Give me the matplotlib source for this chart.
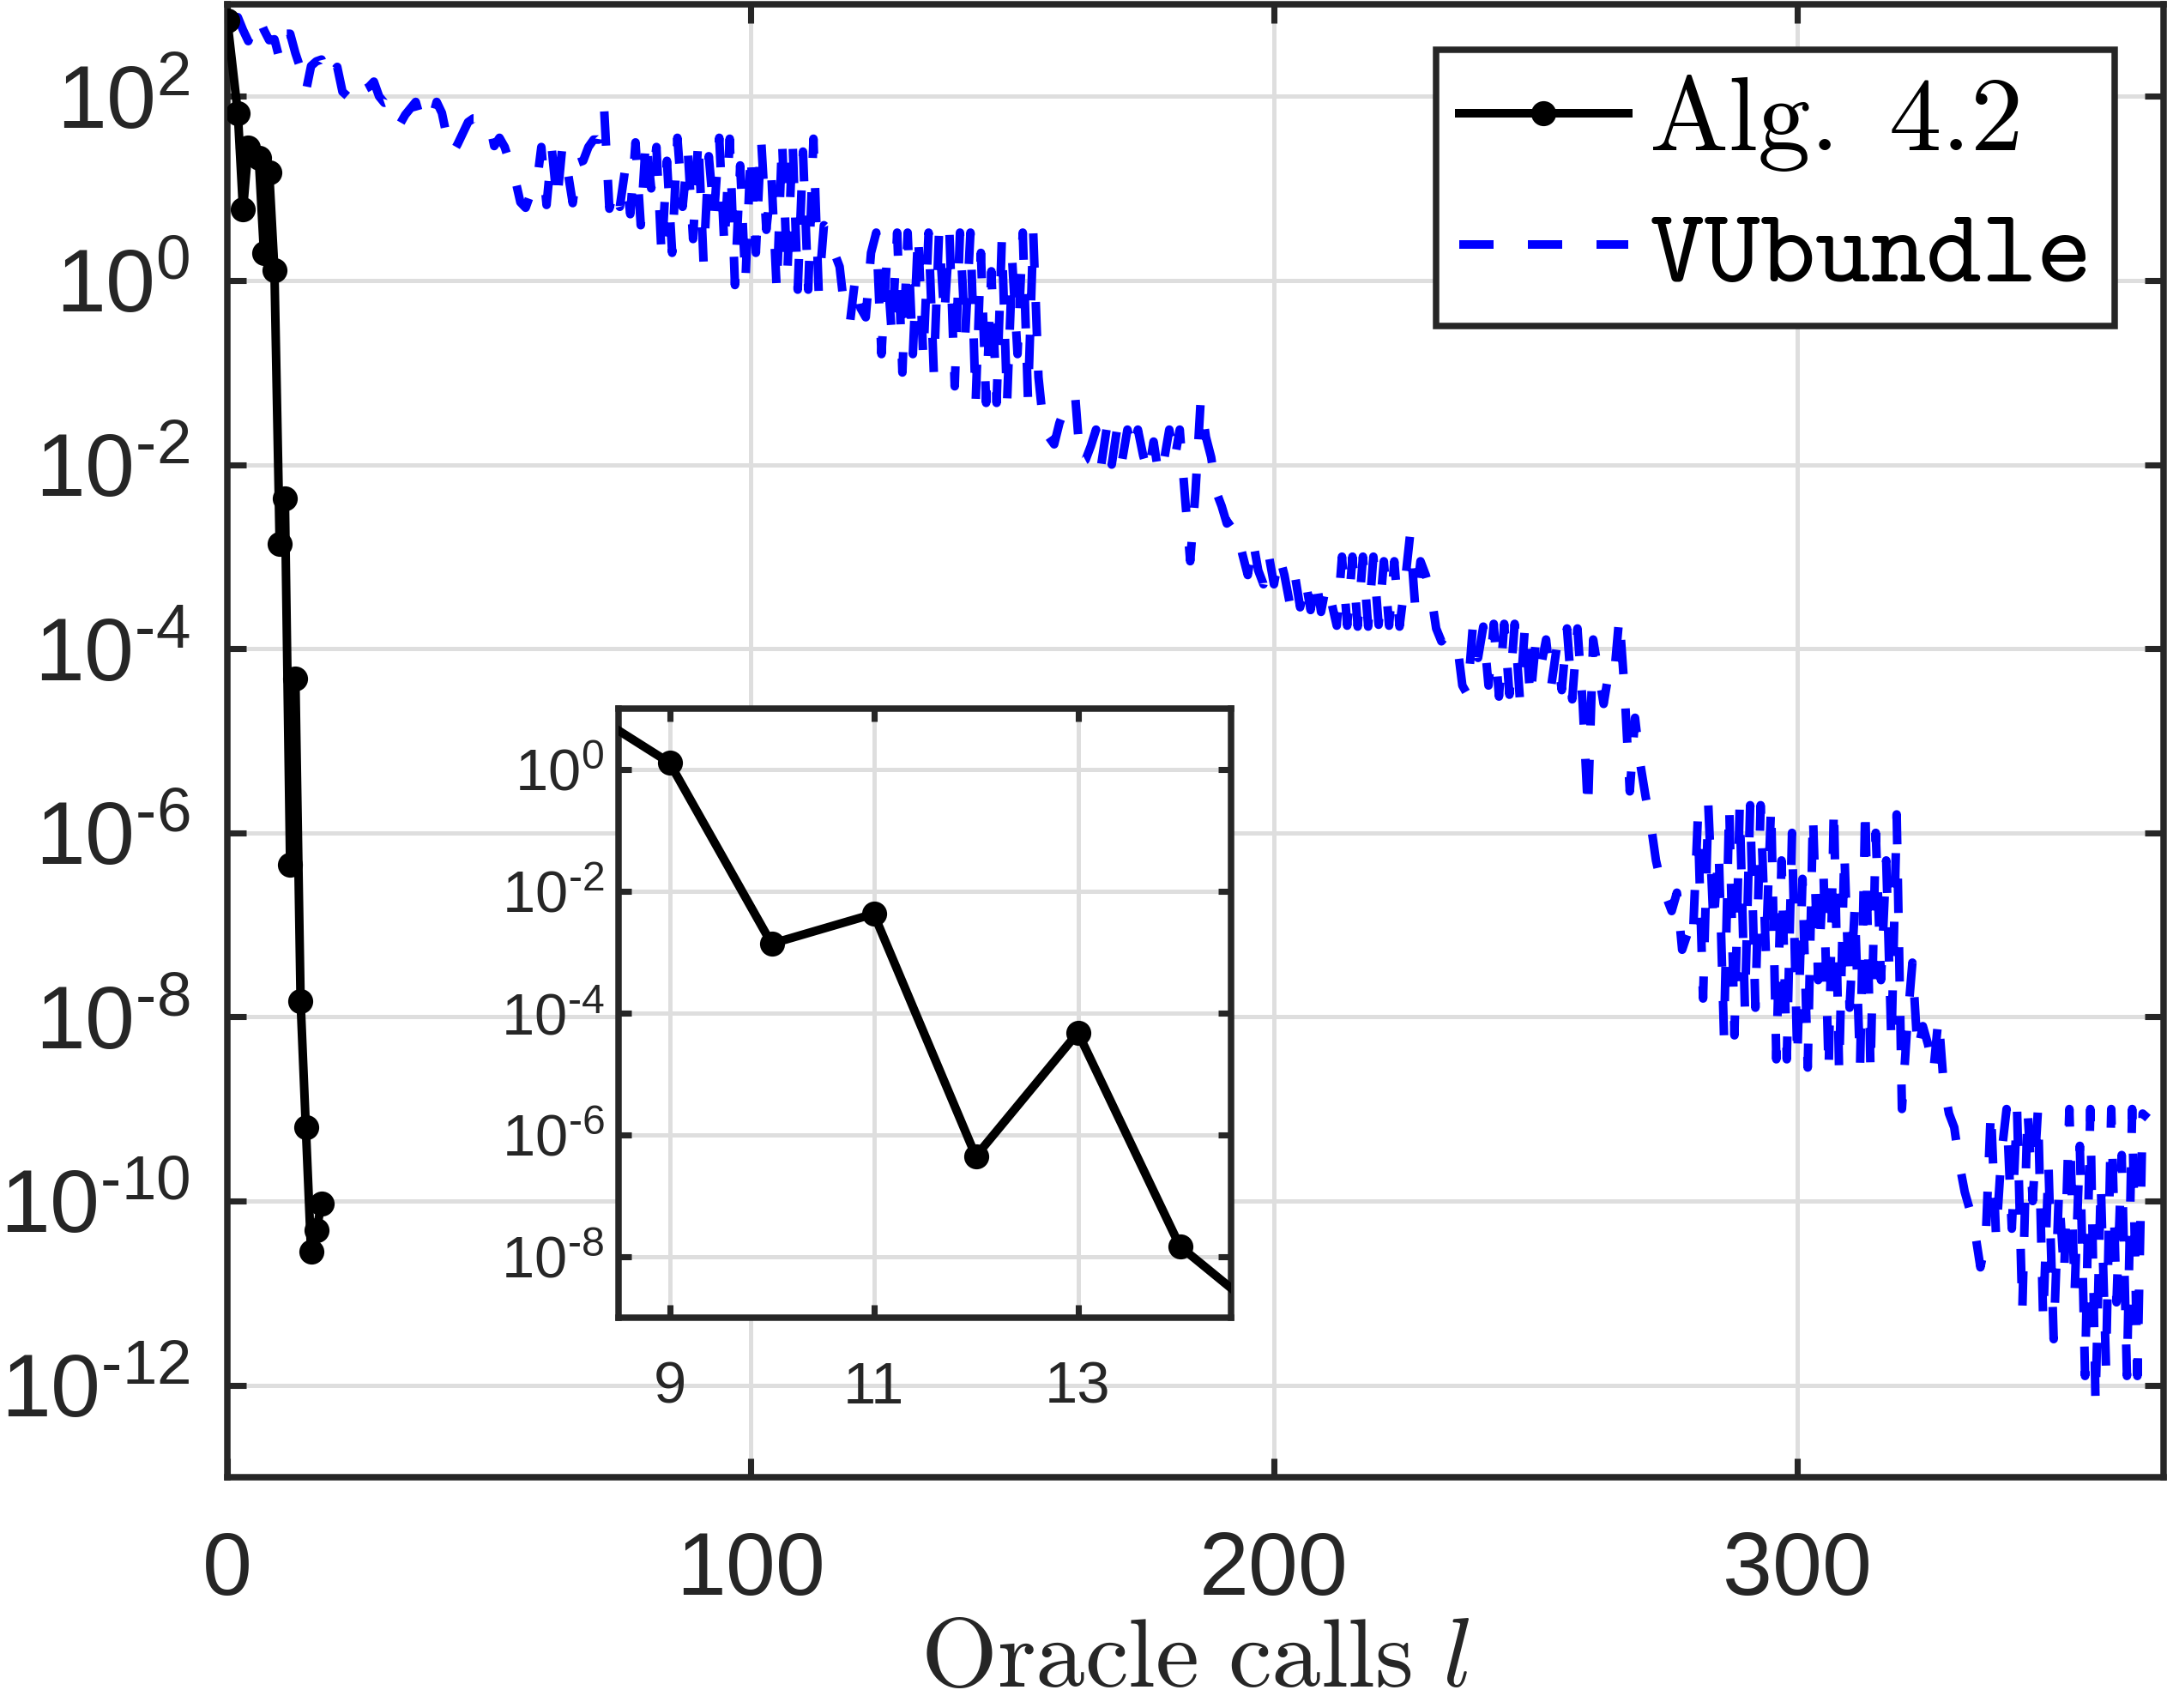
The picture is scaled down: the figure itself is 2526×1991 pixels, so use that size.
import numpy as np
import matplotlib
matplotlib.use("Agg")
import matplotlib.pyplot as plt
from matplotlib.ticker import FixedLocator, FixedFormatter, NullLocator
from matplotlib.mathtext import MathTextParser

# ---------------- data ----------------
# Alg. 4.2 : oracle calls vs log10 of the error measure
alg_x = [0, 2, 3, 4, 6, 7, 8, 9, 10, 11, 12, 13, 14, 15, 16, 17, 18]
alg_log10 = [2.82, 1.82, 0.77, 1.44, 1.33, 0.30, 1.17, 0.11, -2.86, -2.37,
             -6.35, -4.32, -7.83, -9.20, -10.55, -10.32, -10.03]

# VUbundle : log10 of the error measure at oracle calls 1, 2, 3, ...
vub_log10 = [
    2.86, 2.86, 2.72, 2.60, 2.75, 2.86, 2.72, 2.61, 2.62, 2.40,          # 1-10
    2.68, 2.68, 2.47, 2.30, 2.05, 2.33, 2.38, 2.40, 2.18, 2.25,          # 11-20
    2.32, 2.05, 2.00, 1.95, 1.90, 2.07, 2.10, 2.16, 2.00, 1.93,          # 21-30
    1.95, 1.93, 1.70, 1.80, 1.87, 1.94, 1.74, 1.75, 1.73, 1.94,          # 31-40
    1.82, 1.55, 1.38, 1.48, 1.60, 1.72, 1.76, 1.76, 1.74, 1.74,          # 41-50
    1.46, 1.55, 1.45, 1.27, 1.10, 0.85, 0.79, 0.95, 0.99, 1.45,          # 51-60
    0.82, 1.43, 0.85, 1.45, 1.20, 0.84, 1.28, 1.30, 1.45, 1.53,          # 61-70
    1.53, 1.87, 0.78, 1.00, 0.80, 1.20, 0.72, 1.50, 0.60, 1.55,          # 71-80
    1.00, 1.45, 0.25, 1.30, 0.30, 1.55, 0.80, 1.40, 0.45, 1.55,          # 81-90
    0.20, 1.35, 0.70, 1.55, 0.35, 1.54, -0.05, 1.25, -0.02, 1.40,        # 91-100
    0.30, 1.54, 0.55, 1.10, -0.12, 1.54, 0.05, 1.54, -0.10, 1.40,        # 101-110
    -0.10, 1.54, -0.12, 0.60, 0.55, 0.30, 0.15, -0.35, -0.45, 0.03,      # 111-120
    -0.30, -0.40, 0.30, 0.52, -0.80, 0.20, -0.60, 0.52, -1.00, 0.52,     # 121-130
    -0.80, 0.52, -0.85, 0.52, -1.00, 0.52, -0.40, 0.50, -1.15, 0.52,     # 131-140
    -0.60, 0.52, -1.33, 0.30, -1.33, 0.10, -1.33, 0.45, -1.33, 0.20,     # 141-150
    -0.80, 0.52, -1.30, 0.52, -1.05, -1.60, -1.70, -1.78, -1.55, -1.40,  # 151-160
    -1.30, -1.24, -1.98, -1.95, -1.80, -1.62, -2.00, -1.62, -2.00, -1.62,  # 161-170
    -1.95, -1.62, -1.85, -1.62, -1.90, -2.10, -1.75, -2.12, -1.95, -1.62,  # 171-180
    -1.95, -1.62, -2.35, -3.05, -2.30, -1.30, -1.70, -1.92, -2.30, -2.45,  # 181-190
    -2.64, -2.60, -2.75, -2.98, -3.20, -2.83, -3.15, -3.30, -2.98, -3.30,  # 191-200
    -2.98, -3.20, -3.50, -3.20, -3.55, -3.25, -3.58, -3.22, -3.60, -3.30,  # 201-210
    -3.50, -3.75, -3.00, -3.75, -3.00, -3.76, -3.00, -3.76, -3.00, -3.74,  # 211-220
    -3.05, -3.75, -3.05, -3.76, -3.30, -2.77, -3.55, -3.05, -3.20, -3.40,  # 221-230
    -3.78, -3.92, -3.85, -3.90, -3.94, -4.40, -4.50, -3.76, -4.10, -3.76,  # 231-240
    -4.40, -3.73, -4.52, -3.73, -4.50, -3.73, -4.55, -3.73, -4.55, -3.95,  # 241-250
    -4.20, -3.90, -4.40, -4.00, -4.45, -3.78, -4.55, -3.78, -4.60, -5.76,  # 251-260
    -3.90, -4.25, -4.60, -4.25, -4.30, -3.65, -4.45, -5.55, -4.75, -5.25,  # 261-270
    -5.60, -5.90, -6.30, -6.55, -6.70, -6.85, -6.65, -7.27, -7.10, -7.22,  # 271-280
    -5.84, -7.80, -5.70, -7.00, -6.20, -8.20, -5.70, -8.20, -5.70, -7.90,  # 281-290
    -5.70, -7.90, -5.70, -7.30, -5.70, -8.46, -6.30, -8.46, -6.00, -8.46,  # 291-300
    -6.50, -8.55, -5.80, -7.60, -6.40, -8.60, -5.70, -8.60, -6.20, -7.90,  # 301-310
    -6.80, -8.55, -5.70, -8.60, -6.00, -7.60, -6.30, -8.30, -5.80, -9.00,  # 311-320
    -8.10, -7.41, -8.38, -8.10, -8.30, -8.60, -8.00, -8.75, -9.05, -9.20,  # 321-330
    -9.60, -9.90, -10.10, -10.35, -10.72, -10.44, -9.00, -10.40, -9.50, -9.00,  # 331-340
    -10.30, -9.00, -11.20, -9.00, -10.00, -9.00, -11.30, -9.60, -11.50, -9.90,  # 341-350
    -10.80, -9.00, -11.00, -9.40, -11.90, -9.00, -12.20, -9.80, -11.80, -9.00,  # 351-360
    -11.10, -9.50, -11.90, -9.00, -11.90, -9.05, -9.10,                      # 361-367
]
vub_x = np.arange(1, len(vub_log10) + 1)

main_xticks = [0, 100, 200, 300]
main_yexp = [2, 0, -2, -4, -6, -8, -10, -12]
inset_xticks = [9, 11, 13]
inset_yexp = [0, -2, -4, -6, -8]

labels = ["Alg. 4.2", "VUbundle"]

# ---------------- style ----------------
DPI = 300
W, H = 2526, 1991
AXC = "#262626"
GRIDC = "#dedede"

plt.rcParams["font.family"] = ["Liberation Sans", "DejaVu Sans"]
plt.rcParams["mathtext.fontset"] = "custom"
plt.rcParams["mathtext.rm"] = "Liberation Sans"
plt.rcParams["mathtext.it"] = "Liberation Sans:italic"
plt.rcParams["mathtext.bf"] = "Liberation Sans:bold"
plt.rcParams["mathtext.default"] = "regular"

try:
    MathTextParser("agg").parse(r"$10^{\text{-}2}$", dpi=72)
    HY = r"\text{-}"
except Exception:
    HY = "-"


def pow_label(e):
    if e < 0:
        return r"$10^{%s%d}$" % (HY, -e)
    return r"$10^{%d}$" % e


fig = plt.figure(figsize=(W / DPI, H / DPI), dpi=DPI)
fig.patch.set_facecolor("white")

ax = fig.add_axes([265 / W, 1 - 1722 / H, (2522 - 265) / W, (1722 - 5) / H])

vub_y = 10.0 ** np.array(vub_log10)
alg_y = 10.0 ** np.array(alg_log10)

hv, = ax.plot(vub_x, vub_y, color="#0000ff", lw=2.4, linestyle=(0, (4, 4)),
              dash_joinstyle="round", dash_capstyle="butt", zorder=3,
              label=labels[1])
ha, = ax.plot(alg_x, alg_y, color="black", lw=2.4, marker="o", ms=6,
              solid_joinstyle="round", zorder=4, label=labels[0])

ax.set_yscale("log")
ax.set_xlim(0, 370)
ax.set_ylim(1e-13, 1e3)


def style_axes(a, xt, xtl, yt, ytl, fs, xpad, ypad, tlen):
    a.xaxis.set_major_locator(FixedLocator(xt))
    a.xaxis.set_major_formatter(FixedFormatter(xtl))
    a.yaxis.set_major_locator(FixedLocator(yt))
    a.yaxis.set_major_formatter(FixedFormatter(ytl))
    a.xaxis.set_minor_locator(NullLocator())
    a.yaxis.set_minor_locator(NullLocator())
    a.tick_params(axis="both", which="major", direction="in", top=True,
                  right=True, length=tlen, width=1.7, color=AXC,
                  labelcolor=AXC, labelsize=fs)
    a.tick_params(axis="x", pad=xpad)
    a.tick_params(axis="y", pad=ypad)
    for s in a.spines.values():
        s.set_linewidth(1.8)
        s.set_color(AXC)
    a.grid(True, color=GRIDC, lw=1.2)
    a.set_axisbelow(True)


style_axes(ax, main_xticks, [str(v) for v in main_xticks],
           [10.0 ** e for e in main_yexp], [pow_label(e) for e in main_yexp],
           25, 15, 10.5, 5.3)

xl = ax.set_xlabel(r"$\mathrm{Oracle\ calls}\ \mathit{l}$", fontsize=27.5,
                   math_fontfamily="cm", color=AXC)
xl.set_verticalalignment("baseline")
ax.xaxis.set_label_coords(0.5, (1722 - 1966) / 1717)

leg = ax.legend(handles=[ha, hv], labels=[r"$\mathrm{Alg.\ 4.2}$",
                                          r"$\mathtt{VUbundle}$"],
                loc="upper left", bbox_to_anchor=(0.6243, 0.9691, 0.3505, 0.0),
                mode="expand", borderaxespad=0, fontsize=29.5,
                handlelength=1.6, handletextpad=0.2, labelspacing=0.30,
                borderpad=0.22, fancybox=False, framealpha=1,
                edgecolor=AXC)
leg.get_frame().set_linewidth(1.8)
for t in leg.get_texts():
    t.set_math_fontfamily("cm")
    t.set_color("black")

# ---------------- inset ----------------
axi = fig.add_axes([721 / W, 1 - 1536 / H, (1435 - 721) / W, (1536 - 826) / H])
axi.set_facecolor("white")
axi.plot(alg_x, alg_y, color="black", lw=2.4, marker="o", ms=6,
         solid_joinstyle="round", zorder=4)
axi.set_yscale("log")
axi.set_xlim(8.5, 14.5)
axi.set_ylim(1e-9, 1e1)
style_axes(axi, inset_xticks, [str(v) for v in inset_xticks],
           [10.0 ** e for e in inset_yexp], [pow_label(e) for e in inset_yexp],
           16.5, 12, 4, 3.5)

fig.savefig("out.png", dpi=DPI, facecolor="white")
